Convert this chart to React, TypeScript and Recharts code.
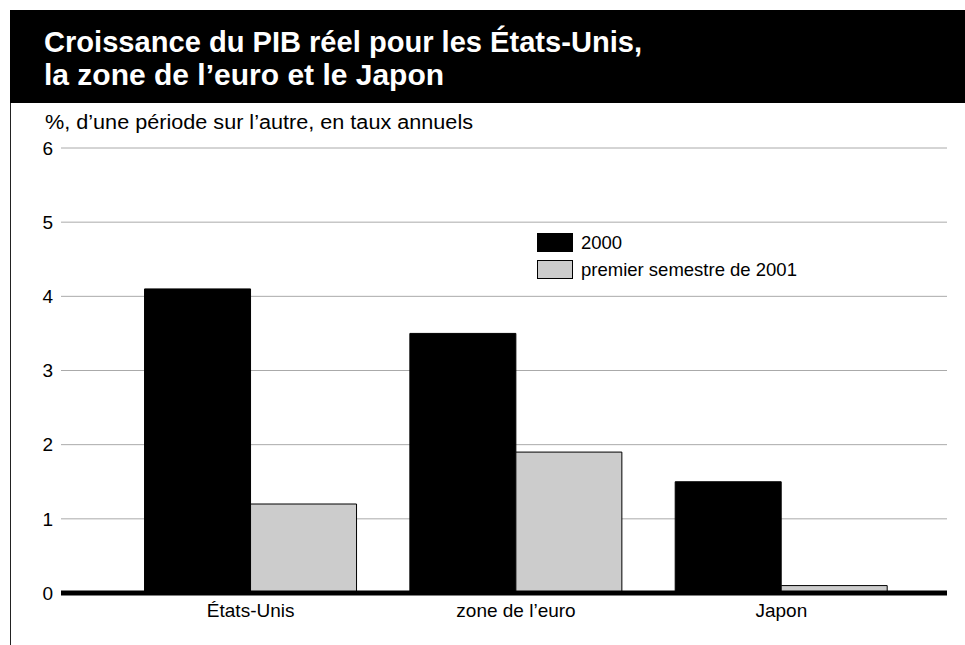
import React from "react";
import { BarChart, Bar, XAxis, YAxis, CartesianGrid } from "recharts";

const categories = ["États-Unis", "zone de l’euro", "Japon"];
const values2000 = [4.1, 3.5, 1.5];
const values2001 = [1.2, 1.9, 0.1];
const yTicks = [0, 1, 2, 3, 4, 5, 6];
const seriesNames = ["2000", "premier semestre de 2001"];
const seriesColors = ["#000000", "#cccccc"];
const titleLines = ["Croissance du PIB réel pour les États-Unis,", "la zone de l’euro et le Japon"];
const subtitle = "%, d’une période sur l’autre, en taux annuels";

const data = categories.map((c, i) => ({ name: c, a: values2000[i], b: values2001[i] }));

const FONT = "'Liberation Sans', Arial, sans-serif";

export default function App() {
  return (
    <div style={{ position: "absolute", left: 0, top: 0, width: 965, height: 645, background: "#fff" }}>
      <div style={{ position: "absolute", left: 0, top: 0 }}>
        <BarChart
          width={965}
          height={645}
          data={data}
          margin={{ top: 148, right: 18, bottom: 22, left: 0 }}
          barCategoryGap="10%"
          barGap={0}
        >
          <CartesianGrid horizontal vertical={false} stroke="#aaaaaa" strokeWidth={1} />
          <XAxis
            dataKey="name"
            padding={{ left: 57, right: 33 }}
            axisLine={{ stroke: "#000", strokeWidth: 5 }}
            tickLine={false}
            tickSize={0}
            tickMargin={11}
            height={30}
            tick={{ fill: "#000", fontSize: 19, fontFamily: FONT }}
          />
          <YAxis
            domain={[0, 6]}
            ticks={yTicks}
            axisLine={false}
            tickLine={false}
            tickSize={0}
            tickMargin={8}
            width={61}
            interval={0}
            tick={{ fill: "#000", fontSize: 19, fontFamily: FONT }}
          />
          <Bar dataKey="a" name={seriesNames[0]} fill={seriesColors[0]} stroke="#000" strokeWidth={1} isAnimationActive={false} />
          <Bar dataKey="b" name={seriesNames[1]} fill={seriesColors[1]} stroke="#000" strokeWidth={1} isAnimationActive={false} />
        </BarChart>
      </div>
      <div
        style={{
          position: "absolute",
          left: 537,
          top: 233,
          fontFamily: FONT,
          fontSize: 18.5,
          color: "#000",
        }}
      >
        {seriesNames.map((n, i) => (
          <div key={i} style={{ display: "flex", alignItems: "center", height: 19, marginBottom: 8 }}>
            <div
              style={{
                width: 34,
                height: 17,
                background: seriesColors[i],
                border: "1px solid #000",
                marginRight: 8,
              }}
            />
            <span>{n}</span>
          </div>
        ))}
      </div>
      <svg
        width={965}
        height={645}
        style={{ position: "absolute", left: 0, top: 0, pointerEvents: "none" }}
      >
        <rect x={10} y={10} width={955} height={93} fill="#000" />
        <line x1={10.5} y1={103} x2={10.5} y2={645} stroke="#222" strokeWidth={1} />
        <text
          x={44}
          y={52}
          fill="#fff"
          fontFamily={FONT}
          fontWeight="bold"
          fontSize={30}
          textLength={598}
          lengthAdjust="spacingAndGlyphs"
        >
          {titleLines[0]}
        </text>
        <text x={44} y={85} fill="#fff" fontFamily={FONT} fontWeight="bold" fontSize={30}>
          {titleLines[1]}
        </text>
        <text
          x={45}
          y={129}
          fill="#000"
          fontFamily={FONT}
          fontSize={20}
          textLength={428}
          lengthAdjust="spacingAndGlyphs"
        >
          {subtitle}
        </text>
      </svg>
    </div>
  );
}
